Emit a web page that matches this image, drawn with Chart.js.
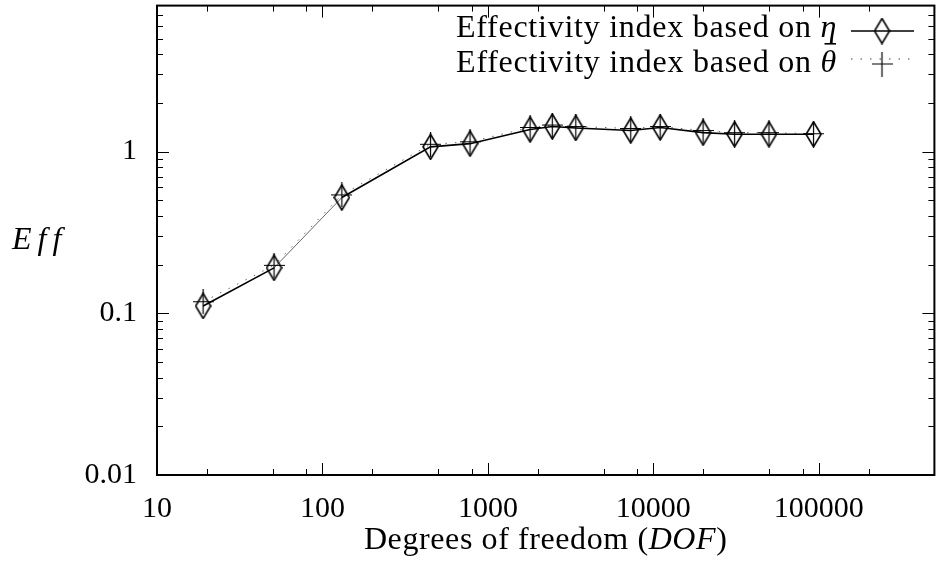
<!DOCTYPE html>
<html>
<head>
<meta charset="utf-8">
<script src="https://cdn.jsdelivr.net/npm/chart.js@4.4.1/dist/chart.umd.min.js"></script>
<style>
  html, body { margin: 0; padding: 0; background: #fff; }
</style>
</head>
<body>
<canvas id="effChart" width="940" height="561"></canvas>
<script>
// values (log-log)
const dof = [19, 51, 131, 450, 780, 1800, 2450, 3400, 7300, 11000, 20000, 31000, 50000, 93000];
const effEta = [0.111, 0.191, 0.52, 1.07, 1.12, 1.37, 1.43, 1.40, 1.35, 1.41, 1.31, 1.28, 1.28, 1.28];
const effTheta = [0.118, 0.198, 0.54, 1.11, 1.15, 1.41, 1.46, 1.43, 1.39, 1.43, 1.35, 1.31, 1.31, 1.29];

const xMajor = [10, 100, 1000, 10000, 100000];
const xMinor = [20, 50, 80, 200, 500, 800, 2000, 5000, 8000, 20000, 50000, 80000, 200000];
const xTickLabels = ['10', '100', '1000', '10000', '100000'];
const yMajor = [0.01, 0.1, 1];
const yMinor = [0.02, 0.03, 0.04, 0.05, 0.06, 0.07, 0.08, 0.09,
                0.2, 0.3, 0.4, 0.5, 0.6, 0.7, 0.8, 0.9, 2, 3, 4, 5, 6, 7];
const yTickLabels = ['0.01', '0.1', '1'];

const legendText = [['Effectivity index based on ', '\u03B7'], ['Effectivity index based on ', '\u03B8']];
const xTitle = ['Degrees of freedom (', 'DOF', ')'];
const yTitle = 'Eff';

const serif = '"Liberation Serif", "DejaVu Serif", serif';

// marker images
function makeDiamond(w, h) {
  const c = document.createElement('canvas');
  c.width = w; c.height = h;
  const g = c.getContext('2d');
  g.strokeStyle = '#000';
  g.lineWidth = 1.6;
  g.beginPath();
  g.moveTo(w / 2, 1); g.lineTo(w - 1, h / 2); g.lineTo(w / 2, h - 1); g.lineTo(1, h / 2);
  g.closePath();
  g.stroke();
  return c;
}
function makeCross(w, h) {
  const c = document.createElement('canvas');
  c.width = w; c.height = h;
  const g = c.getContext('2d');
  g.strokeStyle = '#000';
  g.lineWidth = 1.2;
  g.beginPath();
  g.moveTo(0, h / 2); g.lineTo(w, h / 2);
  g.moveTo(w / 2, 0); g.lineTo(w / 2, h);
  g.stroke();
  return c;
}
const diamond = makeDiamond(17, 27);
const cross = makeCross(21, 25);

function buildTicks(major, minor) {
  return scale => {
    scale.ticks = major.map(v => ({ value: v, major: true }))
      .concat(minor.map(v => ({ value: v, major: false })))
      .sort((a, b) => a.value - b.value);
  };
}

// gnuplot-like frame with inward ticks on all four sides
const frameTicks = {
  id: 'frameTicks',
  afterDraw(chart) {
    const { ctx, chartArea: a, scales: { x, y } } = chart;
    ctx.save();
    ctx.strokeStyle = '#000';
    ctx.lineWidth = 1;
    ctx.beginPath();
    x.ticks.forEach(t => {
      const px = Math.round(x.getPixelForValue(t.value)) + 0.5;
      const len = t.major ? 12 : 6;
      ctx.moveTo(px, a.bottom); ctx.lineTo(px, a.bottom - len);
      ctx.moveTo(px, a.top); ctx.lineTo(px, a.top + len);
    });
    y.ticks.forEach(t => {
      const py = Math.round(y.getPixelForValue(t.value)) + 0.5;
      const len = t.major ? 12 : 6;
      ctx.moveTo(a.left, py); ctx.lineTo(a.left + len, py);
      ctx.moveTo(a.right, py); ctx.lineTo(a.right - len, py);
    });
    ctx.stroke();
    ctx.lineWidth = 2;
    ctx.strokeRect(a.left, a.top, a.right - a.left, a.bottom - a.top);
    ctx.restore();
  }
};

// axis titles and key
const texts = {
  id: 'texts',
  afterDraw(chart) {
    const { ctx, chartArea: a } = chart;
    ctx.save();
    ctx.fillStyle = '#000';
    ctx.textBaseline = 'alphabetic';

    // x title, centred under the plot
    ctx.letterSpacing = '0.6px';
    const fonts = ['32px ' + serif, 'italic 32px ' + serif, '32px ' + serif];
    const widths = xTitle.map((s, i) => { ctx.font = fonts[i]; return ctx.measureText(s).width; });
    let tx = (a.left + a.right) / 2 - widths.reduce((p, c) => p + c, 0) / 2;
    xTitle.forEach((s, i) => { ctx.font = fonts[i]; ctx.fillText(s, tx, 549); tx += widths[i]; });

    // y title
    ctx.font = 'italic 32px ' + serif;
    ctx.letterSpacing = '6px';
    ctx.fillText(yTitle, 12, 249);

    // key, right-aligned text with sample to the right
    ctx.letterSpacing = '0.75px';
    const right = 837;
    const rows = [{ base: 37, lineY: 31, mark: diamond, markY: 31, dash: [], bar: false },
                  { base: 72, lineY: 59, mark: cross, markY: 64, dash: [1.5, 8], bar: true }];
    rows.forEach((r, i) => {
      const [plain, sym] = legendText[i];
      ctx.font = 'italic 32px ' + serif;
      const ws = ctx.measureText(sym).width;
      ctx.fillText(sym, right - ws, r.base);
      if (r.bar) {
        // macron over theta
        ctx.fillRect(right - ws + 4, r.base - 29, ws - 5, 1.6);
      }
      ctx.font = '32px ' + serif;
      const wp = ctx.measureText(plain).width;
      ctx.fillText(plain, right - ws - wp, r.base);

      ctx.strokeStyle = i === 0 ? '#000' : '#444';
      ctx.lineWidth = i === 0 ? 1.6 : 1.2;
      ctx.setLineDash(r.dash);
      ctx.beginPath();
      ctx.moveTo(851, r.lineY); ctx.lineTo(914, r.lineY);
      ctx.stroke();
      ctx.setLineDash([]);
      ctx.drawImage(r.mark, 882 - r.mark.width / 2, r.markY - r.mark.height / 2);
    });
    ctx.restore();
  }
};

const ctx = document.getElementById('effChart').getContext('2d');

new Chart(ctx, {
  type: 'line',
  data: {
    datasets: [{
      label: 'eta',
      data: dof.map((d, i) => ({ x: d, y: effEta[i] })),
      borderColor: '#000',
      borderWidth: 1.6,
      tension: 0,
      pointStyle: diamond,
      pointRadius: 4,
      segment: { borderWidth: c => (c.p0DataIndex === 1 ? 0.6 : 1.6) }
    }, {
      label: 'theta',
      data: dof.map((d, i) => ({ x: d, y: effTheta[i] })),
      borderColor: '#666',
      borderWidth: 1,
      borderDash: [1.5, 8],
      tension: 0,
      pointStyle: cross,
      pointRadius: 4
    }]
  },
  options: {
    responsive: false,
    animation: false,
    events: [],
    layout: { padding: { top: 4, right: 2, left: 0, bottom: 0 } },
    plugins: { legend: { display: false }, tooltip: { enabled: false } },
    scales: {
      x: {
        type: 'logarithmic',
        min: 10,
        max: 500000,
        grid: { display: false },
        border: { display: false },
        afterBuildTicks: buildTicks(xMajor, xMinor),
        afterFit: s => { s.height = 86; s.paddingLeft = 0; s.paddingRight = 0; },
        ticks: {
          autoSkip: false,
          maxRotation: 0,
          padding: 8,
          color: '#000',
          font: { family: serif, size: 30 },
          callback: v => { const i = xMajor.indexOf(v); return i >= 0 ? xTickLabels[i] : ''; }
        }
      },
      y: {
        type: 'logarithmic',
        min: 0.01,
        max: 8,
        grid: { display: false },
        border: { display: false },
        afterBuildTicks: buildTicks(yMajor, yMinor),
        afterFit: s => { s.width = 157; s.paddingTop = 0; s.paddingBottom = 0; },
        ticks: {
          autoSkip: false,
          padding: 12,
          color: '#000',
          font: { family: serif, size: 30 },
          callback: v => { const i = yMajor.indexOf(v); return i >= 0 ? yTickLabels[i] : ''; }
        }
      }
    }
  },
  plugins: [frameTicks, texts]
});
</script>
</body>
</html>
